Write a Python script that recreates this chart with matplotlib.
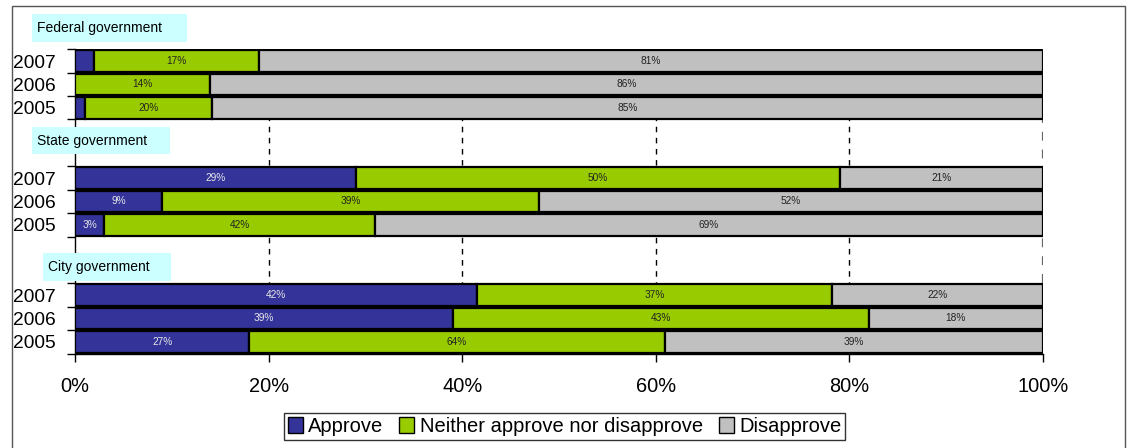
import matplotlib
matplotlib.use("Agg")
import matplotlib.pyplot as plt
from matplotlib.patches import Rectangle, Patch

plt.rcParams['font.family'] = ['Liberation Sans', 'DejaVu Sans']

# ---- data (bar widths, labels as printed) ----
groups = ["Federal government", "State government", "City government"]
years = ["2007", "2006", "2005"]
series = ["Approve", "Neither approve nor disapprove", "Disapprove"]
colors = ["#333399", "#99CC00", "#C0C0C0"]

approve = [2, 0, 1, 29, 9, 3, 41.5, 39, 18]
neither = [17, 13.9, 13.2, 50, 38.9, 28, 36.7, 43, 42.9]
disapprove = [81, 86.1, 85.8, 21, 52.1, 69, 21.8, 18, 39.1]

approve_lbl = ["", "", "", "29%", "9%", "3%", "42%", "39%", "27%"]
neither_lbl = ["17%", "14%", "20%", "50%", "39%", "42%", "37%", "43%", "64%"]
disapprove_lbl = ["81%", "86%", "85%", "21%", "52%", "69%", "22%", "18%", "39%"]

xticks = [0, 20, 40, 60, 80, 100]
xticklabels = ["0%", "20%", "40%", "60%", "80%", "100%"]

# ---- layout ----
W, H = 1128, 448
fig = plt.figure(figsize=(W / 100, H / 100), dpi=100)
ax_l, ax_r, ax_t, ax_b = 75, 1043, 49.3, 353.5
ax = fig.add_axes([ax_l / W, 1 - ax_b / H, (ax_r - ax_l) / W, (ax_b - ax_t) / H])

# row positions: 3 bars per group, 2 empty slots between groups
rows = []
for g in range(len(groups)):
    for k in range(len(years)):
        rows.append(g * 5 + k)

ax.set_ylim(12.5, -0.5)
ax.set_xlim(0, 100)

bh = 0.93
left = [0] * len(rows)
for vals, lbls, col, tc in [(approve, approve_lbl, colors[0], "#E8E8E8"),
                            (neither, neither_lbl, colors[1], "#222222"),
                            (disapprove, disapprove_lbl, colors[2], "#222222")]:
    ax.barh(rows, vals, left=left, height=bh, color=col, edgecolor="black",
            linewidth=1.6, zorder=3)
    for r, v, l0, t in zip(rows, vals, left, lbls):
        if t:
            ax.text(l0 + v / 2, r, t, ha="center", va="center", fontsize=7.3,
                    color=tc, zorder=4)
    left = [a + b for a, b in zip(left, vals)]

# gridlines
for x in xticks[1:]:
    ax.axvline(x, color="black" if x < 100 else "#666666", linestyle=(0, (4, 4)),
               linewidth=1.0 if x < 100 else 1.6, zorder=1)

ax.set_xticks(xticks)
ax.set_xticklabels(xticklabels, fontsize=14.4)
ax.tick_params(axis="x", length=6, width=1, pad=11, direction="out")

ax.set_yticks(rows)
ax.set_yticklabels(years * len(groups), fontsize=13.8)
ax.set_yticks([i - 0.5 for i in range(14)], minor=True)
ax.tick_params(axis="y", which="major", length=0, pad=14)
ax.tick_params(axis="y", which="minor", length=6, width=1, direction="out")

for s in ["top", "right"]:
    ax.spines[s].set_visible(False)
ax.spines["left"].set_linewidth(1.0)
ax.spines["bottom"].set_linewidth(1.0)

# group label boxes
boxes = [(32, 14, 187, 42, 37), (32, 127, 170, 154, 37), (43, 253, 171, 281, 48)]
for (x0, y0, x1, y1, tx), name in zip(boxes, groups):
    fig.patches.append(Rectangle((x0 / W, 1 - y1 / H), (x1 - x0) / W, (y1 - y0) / H,
                                 transform=fig.transFigure, facecolor="#CCFFFF",
                                 edgecolor="none", zorder=5))
    fig.text(tx / W, 1 - ((y0 + y1) / 2) / H, name, ha="left", va="center",
             fontsize=10, color="black", zorder=6)

# outer frame
fig.patches.append(Rectangle((12 / W, -0.05), (1125 - 12) / W, 1 - 6 / H + 0.05,
                             transform=fig.transFigure, facecolor="none",
                             edgecolor="#555555", linewidth=1.0, zorder=0))

# legend
handles = [Patch(facecolor=c, edgecolor="black", linewidth=1.0) for c in colors]
leg = fig.legend(handles, series, loc="center", bbox_to_anchor=(564.5 / W, 1 - 426.5 / H),
                 ncol=3, fontsize=14.5, frameon=True, fancybox=False,
                 handlelength=0.75, handleheight=0.8, handletextpad=0.25,
                 columnspacing=0.8, borderpad=0.2, borderaxespad=0)
leg.get_frame().set_edgecolor("black")
leg.get_frame().set_linewidth(1.0)

fig.savefig("out.png", dpi=100)
